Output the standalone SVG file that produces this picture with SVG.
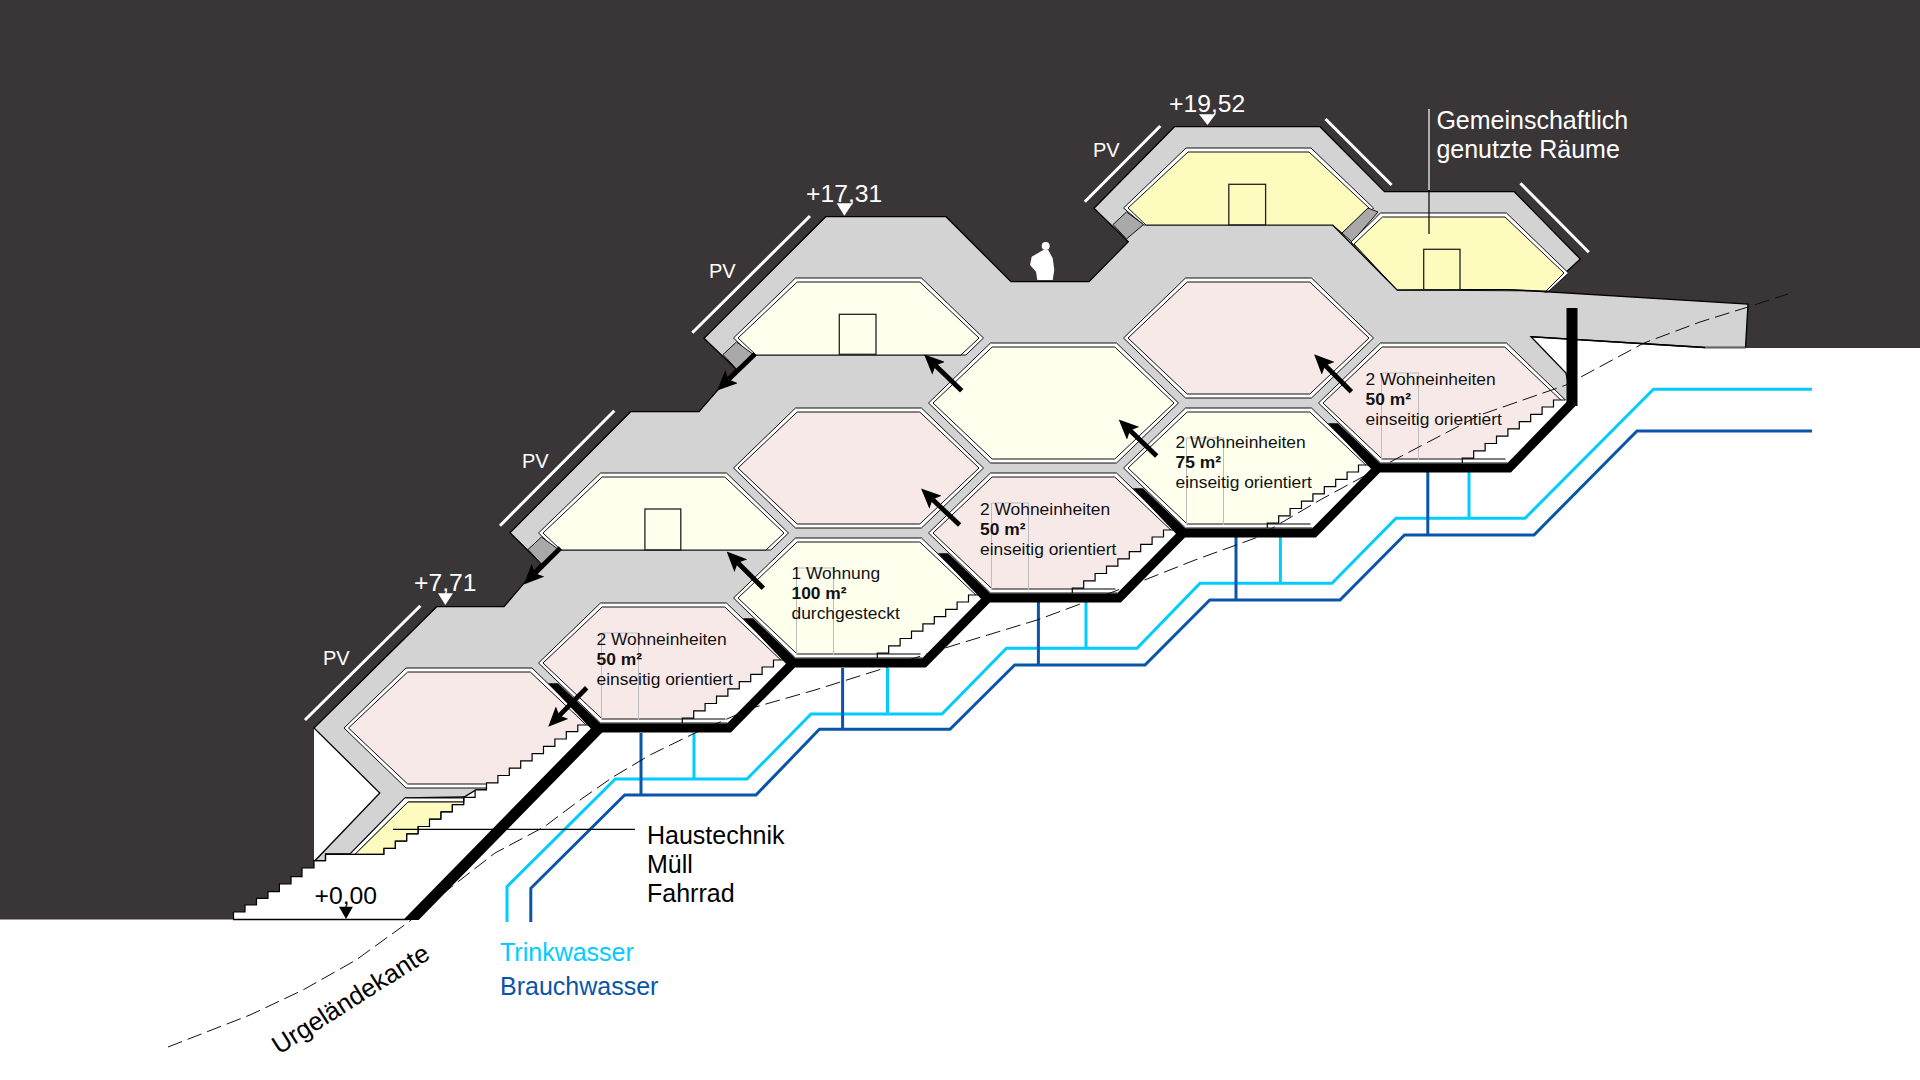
<svg xmlns="http://www.w3.org/2000/svg" width="1920" height="1080" viewBox="0 0 1920 1080">
<style>
text{font-family:"Liberation Sans",Arial,sans-serif}
.w{fill:#fff}.k{fill:#000}
.lbl{font-size:17.4px;fill:#111}
.lbl .b{font-weight:bold}
.pv{font-size:20px;fill:#fff}
.lv{font-size:24.7px;fill:#fff}
.big{font-size:25px}
.ln{fill:none;stroke:#000;stroke-width:1.2}
.fr{fill:#fff;stroke:#111;stroke-width:1}
.in{stroke:#111;stroke-width:1}
.pink{fill:#F8E9E9}.pale{fill:#FFFFEE}.lem{fill:#FDFBBE}
.door{fill:none;stroke:#222;stroke-width:1.3}
.gd{fill:none;stroke:#bdbdbd;stroke-width:1}
.box{fill:#A9A9A9;stroke:#111;stroke-width:1}
.pvl{stroke:#fff;stroke-width:3;fill:none}
.tw{fill:none;stroke:#00CCFF;stroke-width:3}
.bw{fill:none;stroke:#0A55A8;stroke-width:3}
.arr{stroke:#000;stroke-width:4.8;fill:none;marker-end:url(#ah)}
</style>
<defs>
<marker id="ah" markerUnits="userSpaceOnUse" markerWidth="20" markerHeight="18" viewBox="0 -8.5 19 17" refX="4" refY="0" orient="auto"><path d="M0,-8.5 L19,0 L0,8.5 L4,0Z" fill="#000"/></marker>
<clipPath id="wallclip"><rect x="0" y="0" width="1920" height="920"/></clipPath>
<g id="hex"><polygon class="fr" points="-125,0 -63,-60 63,-60 125,0 63,60 -63,60"/><polygon class="in" points="-120.5,0 -61.3,-56 61.3,-56 120.5,0 61.3,56 -61.3,56"/></g>
<g id="hexcut"><polygon class="fr" points="-125,0 -63,-60 63,-60 125,0 107.4,17 -107.4,17"/><polygon class="in" points="-120.5,0 -61.3,-56 61.3,-56 120.5,0 102.5,17 -102.5,17"/></g>
<polygon id="box" class="box" points="-122,4 -105,16.5 -122,31 -135.5,16.5"/>
<g id="stair">
<polygon class="w" points="110,-3 110,4 98.6,4 98.6,11.3 87.2,11.3 87.2,18.6 75.8,18.6 75.8,25.9 64.4,25.9 64.4,33.2 53,33.2 53,40.5 41.6,40.5 41.6,47.8 30.2,47.8 30.2,55.1 18.8,55.1 18.8,64 66,64 130,0 122,-3"/>
<polyline class="ln" points="122,-3 110,-3 110,4 98.6,4 98.6,11.3 87.2,11.3 87.2,18.6 75.8,18.6 75.8,25.9 64.4,25.9 64.4,33.2 53,33.2 53,40.5 41.6,40.5 41.6,47.8 30.2,47.8 30.2,55.1 18.8,55.1 18.8,60"/>
<path class="ln" d="M18.8,56H62M18.8,60H64"/>
<path class="gd" d="M-62,57V-30H-25V57"/>
</g>
<polygon id="taper" class="k" points="-50,-44.7 -40,-44.7 7,0 -3,5"/>
</defs>

<rect id="sky" width="1920" height="1080" fill="#3A3638"/>
<polygon id="ground" class="w" points="0,919.5 233.5,919.5 233.5,912 245,912 245,905 256.5,905 256.5,898.3 268,898.3 268,891.7 279.4,891.7 279.4,884 291,884 291,876.7 302,876.7 302,868 314,868 314,728 1200,400 1500,320 1700,325 1745.5,348 1920,348 1920,1080 0,1080"/>
<polygon id="building" fill="#D3D3D3" stroke="#000" stroke-width="1.3" stroke-linejoin="miter" points="314,728 436.7,606.7 504,606.7 541,563.3 510,532.7 630.6,411.7 699,411.7 736,369 704,338.3 825.7,216.7 946,216.7 1011,281.7 1089,281.7 1128.3,241.7 1094,208.3 1174.5,126.7 1320,126.7 1384.5,191.7 1514.3,191.7 1580.3,259 1545,291.7 1748,304 1745.5,347.5 1705,347.5 1531,336.7 1566,373 1572,403 1509,468 1378,468 1314,533 1183,533 1119,598 988,598 924,663 793,663 729,728 598,728 593.5,728 530,788 476,790 464,797 405,798 350,854 325.5,854 325.5,860.7 315,860.7 379.8,793"/>
<path d="M1705,347.5H1745.5" stroke="#666" stroke-width="1.5"/>

<g id="upper-rooms">
<use href="#hexcut" transform="translate(663.5,533)" class="pale"/><use href="#box" transform="translate(663.5,533)"/>
<use href="#hexcut" transform="translate(858.5,338)" class="pale"/><use href="#box" transform="translate(858.5,338)"/>
<polygon class="fr" points="1186,148 1311,148 1373.5,208 1346,236 1332.6,225 1143.8,225 1123.5,208"/>
<polygon class="in lem" points="1188,152 1309,152 1369,208 1342,233 1332.6,225 1146,225 1128,208"/>
<use href="#box" transform="translate(1248.5,208)"/>
<polygon class="box" points="1368,208 1378,212 1352,242 1342,233"/>
<polygon class="fr" points="1380.5,213 1506.5,213 1568.5,273 1549,291 1397,290 1351,242"/>
<polygon class="in lem" points="1382.5,217 1505,217 1564,273 1546,291 1505,289.5 1397,290 1354,244"/>
<path class="ln" d="M1332.6,225L1397,290L1505,289.5L1548,292"/>
<rect class="door" x="839.3" y="314.3" width="36.7" height="40"/>
<rect class="door" x="644.9" y="509" width="35.9" height="41"/>
<rect class="door" x="1228.8" y="184.3" width="36.8" height="40.7"/>
<rect class="door" x="1423.7" y="249.3" width="36.3" height="40.7"/>
</g>
<g id="large-rooms">
<use href="#hex" transform="translate(858.5,468)" class="pink"/>
<use href="#hex" transform="translate(1053.5,403)" class="pale"/>
<use href="#hex" transform="translate(1248.5,338)" class="pink"/>
</g>
<g id="lower-left-room">
<use href="#hex" transform="translate(469,728)" class="pink"/>
<polygon class="w" points="589,725 577.8,725 577.8,731.7 566.3,731.7 566.3,739 554.9,739 554.9,746.3 543.5,746.3 543.5,753.6 532.1,753.6 532.1,760.9 520.7,760.9 520.7,768.2 509.3,768.2 509.3,775.5 497.9,775.5 497.9,782.8 486.5,782.8 486.5,790 475.1,790 475.1,797.3 463.7,797.3 463.7,809 520,809 600,728"/>
<polygon class="fr" points="405,798 464,798 464,802 408,802 355,854.3 350,854.3"/>
<polygon class="in lem" points="408,802 463.7,802 463.7,804.6 452.3,804.6 452.3,811.9 440.9,811.9 440.9,819.2 429.5,819.2 429.5,826.5 418.1,826.5 418.1,833.8 406.7,833.8 406.7,841.1 395.3,841.1 395.3,848.4 383.9,848.4 383.9,854.3 355,854.3"/>
<polyline class="ln" points="589,725 577.8,725 577.8,731.7 566.3,731.7 566.3,739 554.9,739 554.9,746.3 543.5,746.3 543.5,753.6 532.1,753.6 532.1,760.9 520.7,760.9 520.7,768.2 509.3,768.2 509.3,775.5 497.9,775.5 497.9,782.8 486.5,782.8 486.5,790 475.1,790 475.1,797.3 463.7,797.3 463.7,804.6 452.3,804.6 452.3,811.9 440.9,811.9 440.9,819.2 429.5,819.2 429.5,826.5 418.1,826.5 418.1,833.8 406.7,833.8 406.7,841.1 395.3,841.1 395.3,848.4 383.9,848.4 383.9,854.3 325.5,854.3 325.5,860.7 314,860.7 314,868 302,868 302,876.7 291,876.7 291,884 279.4,884 279.4,891.7 268,891.7 268,898.3 256.5,898.3 256.5,905 245,905 245,912 233.5,912 233.5,919"/>
</g>
<g id="units">
<g id="unit-1" transform="translate(663.5,663)"><use href="#hex" class="pink"/><use href="#stair"/></g>
<g id="unit-2" transform="translate(858.5,598)"><use href="#hex" class="pale"/><use href="#stair"/></g>
<g id="unit-3" transform="translate(1053.5,533)"><use href="#hex" class="pink"/><use href="#stair"/></g>
<g id="unit-4" transform="translate(1248.5,468)"><use href="#hex" class="pale"/><use href="#stair"/></g>
<g id="unit-5" transform="translate(1443.5,403)"><use href="#hex" class="pink"/><use href="#stair"/></g>
</g>

<g id="pipes">
<polyline class="tw" points="507,922 507,886.7 615.3,779 747,779 811,714 942,714 1006.5,648.3 1137,648.3 1200,583.3 1332,583.3 1396,518.3 1525,518.3 1653.5,389.3 1812,389.3"/>
<polyline class="bw" points="530.8,922 530.8,888.3 624.7,795 756,795 819.4,729.3 950,729.3 1014.7,665 1145,665 1209.8,600 1340,600 1404.5,535 1534,535 1637,431 1812,431"/>
<path class="tw" d="M694,733V779M887.5,668V714M1086,602V648M1280.4,537V583M1469,472V518"/>
<path class="bw" d="M641,733V795M842.6,668V729M1038.4,602V665M1236,537V600M1427.8,472V535"/>
</g>
<polyline id="urgelaende" fill="none" stroke="#111" stroke-width="1" stroke-dasharray="15 6" points="168,1047 250,1015 303,990 356,960 409,921.7 450,888 495,853 544,827 580,800 613,777 650,755 695,733 752,708 815,690 878.6,670 945,648 1037,620 1137,583 1195,560 1255.5,538 1320,500 1394,460 1480,415 1566,385 1644,343 1700,322 1748,307 1788,294"/>

<g id="walls" clip-path="url(#wallclip)">
<path d="M406,925L599,728" fill="none" stroke="#000" stroke-width="11"/>
<polyline fill="none" stroke="#000" stroke-width="9" points="594,728 729,728 793,663 924,663 988,598 1119,598 1183,533 1314,533 1378,468 1509,468 1572,403"/>
<path d="M1572,308V406" stroke="#000" stroke-width="11" fill="none"/>
<use href="#taper" transform="translate(598,728)"/>
<use href="#taper" transform="translate(793,663)"/>
<use href="#taper" transform="translate(988,598)"/>
<use href="#taper" transform="translate(1183,533)"/>
<use href="#taper" transform="translate(1378,468)"/>
</g>

<g id="arrows">
<path class="arr" d="M586.7,687.7L559.3,715.6"/>
<path class="arr" d="M560.4,548L535,573.3"/>
<path class="arr" d="M755,354L728.5,379.6"/>
<path class="arr" d="M763.3,588.3L737.8,562.7"/>
<path class="arr" d="M961.7,390.7L935.5,365.4"/>
<path class="arr" d="M959.6,525L932.5,499.4"/>
<path class="arr" d="M1156.7,456L1130.1,430.4"/>
<path class="arr" d="M1351.4,391.7L1325.2,365.4"/>
</g>

<g id="thin-lines">
<path d="M393,829.3H635" stroke="#000" stroke-width="1.2"/>
<path d="M1429,109V190" stroke="#fff" stroke-width="1.2"/>
<path d="M1429,190V234" stroke="#000" stroke-width="1.2"/>
<path d="M1531,336.7L1705,347.5" stroke="#000" stroke-width="1.5"/>
<path d="M233,919.5H408" stroke="#000" stroke-width="1.3"/>
</g>
<g id="pv-panels">
<path class="pvl" d="M305,720L420.4,605.7M500,525.7L614.3,410.7M692.3,332.7L810,216M1084.8,201.7L1160.3,126M1325.5,119L1391.6,185M1520.4,183.3L1588.8,252.3"/>
</g>
<polygon id="person" class="w" points="1043.3,250 1048.3,250 1052.7,258.3 1054.3,270 1052.7,280 1037.3,280 1036,271.7 1030,265 1031.7,256.7"/>
<circle class="w" cx="1045.7" cy="246" r="4"/>

<g id="levels">
<text class="lv" x="806" y="202">+17,31</text><polygon class="w" points="836.7,203.3 852.7,203.3 844.3,215.7"/>
<text class="lv" x="1169" y="112">+19,52</text><polygon class="w" points="1199,114.3 1215.5,114.3 1207.5,125"/>
<text class="lv" x="414" y="591">+7,71</text><polygon class="w" points="438,593.3 453,593.3 445.3,605"/>
<text class="lv" x="314.5" y="904" style="fill:#000">+0,00</text><polygon class="k" points="339,906.7 352.9,906.7 346,919"/>
</g>
<g id="pv-labels">
<text class="pv" x="323" y="665">PV</text>
<text class="pv" x="522" y="468.3">PV</text>
<text class="pv" x="709" y="278.3">PV</text>
<text class="pv" x="1092.9" y="156.7">PV</text>
</g>
<g id="labels">
<g class="lbl"><text x="596.5" y="645">2 Wohneinheiten</text><text class="b" x="596.5" y="665">50 m²</text><text x="596.5" y="685">einseitig orientiert</text></g>
<g class="lbl"><text x="791.5" y="579.3">1 Wohnung</text><text class="b" x="791.5" y="599.3">100 m²</text><text x="791.5" y="619.3">durchgesteckt</text></g>
<g class="lbl"><text x="980" y="515">2 Wohneinheiten</text><text class="b" x="980" y="535">50 m²</text><text x="980" y="555">einseitig orientiert</text></g>
<g class="lbl"><text x="1175.5" y="448.3">2 Wohneinheiten</text><text class="b" x="1175.5" y="468.3">75 m²</text><text x="1175.5" y="488.3">einseitig orientiert</text></g>
<g class="lbl"><text x="1365.5" y="385">2 Wohneinheiten</text><text class="b" x="1365.5" y="405">50 m²</text><text x="1365.5" y="425">einseitig orientiert</text></g>
<text class="big" x="1436.4" y="129" fill="#fff">Gemeinschaftlich</text>
<text class="big" x="1436.4" y="158" fill="#fff">genutzte Räume</text>
<text class="big" x="647" y="844" fill="#000">Haustechnik</text>
<text class="big" x="647" y="873.3" fill="#000">Müll</text>
<text class="big" x="647" y="901.7" fill="#000">Fahrrad</text>
<text class="big" x="500" y="960.7" fill="#00CCFF">Trinkwasser</text>
<text class="big" x="500" y="995" fill="#0A55A8">Brauchwasser</text>
<text class="big" transform="translate(279,1055) rotate(-32.5)" fill="#000" style="font-size:25.6px">Urgeländekante</text>
</g>
</svg>
